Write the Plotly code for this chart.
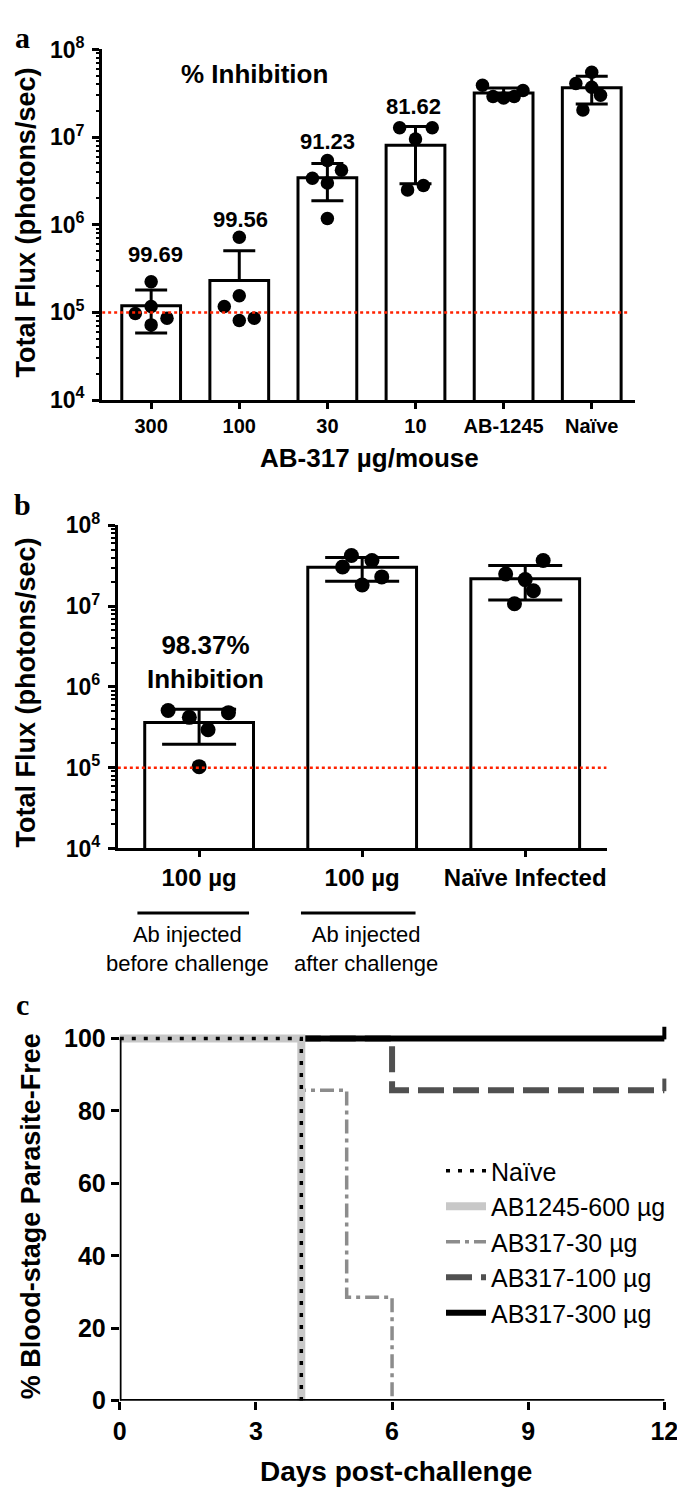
import numpy as np
import plotly.graph_objects as go

# page body has an 8px margin: the figure is sized/offset to compensate
OFF = 8
W, H = 685 - OFF, 1505 - 2 * OFF

# ---------------- data ----------------
# Panel a
a_groups = ["300", "100", "30", "10", "AB-1245", "Naïve"]
a_points = [
    [2.24e5, 0.97e5, 1.17e5, 0.86e5, 0.72e5],
    [7.2e5, 1.17e5, 1.55e5, 0.81e5, 0.86e5],
    [5.4e6, 3.4e6, 4.2e6, 3.0e6, 1.18e6],
    [1.28e7, 1.28e7, 9.5e6, 2.5e6, 2.8e6],
    [3.9e7, 2.9e7, 2.8e7, 2.9e7, 3.4e7],
    [5.5e7, 4.1e7, 3.7e7, 3.0e7, 2.04e7],
]
a_inhibition = ["99.69", "99.56", "91.23", "81.62"]

# Panel b
b_groups = ["100 µg", "100 µg", "Naïve Infected"]
b_points = [
    [5.1e5, 4.8e5, 4.2e5, 2.95e5, 1.03e5],
    [4.24e7, 3.68e7, 3.05e7, 2.3e7, 1.83e7],
    [3.68e7, 2.5e7, 2.13e7, 1.55e7, 1.07e7],
]
b_inhibition = "98.37%"
b_subgroups = ["Ab injected<br>before challenge", "Ab injected<br>after challenge"]

detection_limit = 1e5
y_tick_exponents = [4, 5, 6, 7, 8]

# Panel c (Kaplan-Meier steps), in drawing order
c_series = ["AB317-100 µg", "AB317-30 µg", "AB317-300 µg", "AB1245-600 µg", "Naïve"]
c_legend_rank = [4, 3, 5, 2, 1]
c_days = [[0, 6, 12], [0, 4, 5, 6], [0, 12], [0, 4], [0, 4]]
c_pct = [[100, 85.7, 85.7], [100, 85.7, 28.6, 0], [100, 100], [100, 0], [100, 0]]
c_xticks = [0, 3, 6, 9, 12]
c_yticks = [0, 20, 40, 60, 80, 100]

# ---------------- styling (not data) ----------------
a_jitter = [
    [0, -0.18, 0, 0.18, 0],
    [0, -0.17, 0, 0, 0.17],
    [0, -0.17, 0.16, 0, 0],
    [-0.18, 0.19, 0, -0.09, 0.09],
    [-0.24, -0.12, 0, 0.12, 0.22],
    [0, -0.18, 0, 0.1, -0.1],
]
b_jitter = [
    [-0.19, 0.18, -0.06, 0.055, 0],
    [-0.066, 0.06, -0.12, 0.12, 0],
    [0.11, -0.12, 0, 0.05, -0.066],
]
c_styles = [
    dict(color="#505050", width=6, dash="26px,9px"),
    dict(color="#8c8c8c", width=3.5, dash="14px,5px,4px,5px"),
    dict(color="black", width=6, dash="solid"),
    dict(color="#c8c8c8", width=8, dash="solid"),
    dict(color="black", width=3.5, dash="4px,8px"),
]

FONT = "Liberation Sans, Arial, sans-serif"
SERIF = "Liberation Serif, Times New Roman, serif"


def px(x):
    return (x - OFF) / W


def py(y):
    return 1 - (y - OFF) / H


def stats(points):
    arr = [np.asarray(p) for p in points]
    mean = np.array([a.mean() for a in arr])
    sd = np.array([a.std(ddof=1) for a in arr])
    minus = np.where(mean - sd > 0, sd, 0)
    return mean, sd, minus


fig = go.Figure()

# ---------- panel a ----------
a_mean, a_sd, a_minus = stats(a_points)
a_idx = list(range(len(a_groups)))
fig.add_trace(go.Bar(
    x=a_idx, y=a_mean, width=0.667, xaxis="x", yaxis="y",
    marker=dict(color="white", line=dict(color="black", width=3)),
    error_y=dict(type="data", symmetric=False, array=a_sd, arrayminus=a_minus,
                 color="black", thickness=3, width=16),
    showlegend=False, hoverinfo="skip"))
ax_x, ax_y = [], []
for i, (pts, jit) in enumerate(zip(a_points, a_jitter)):
    ax_x += [i + j for j in jit]
    ax_y += pts
fig.add_trace(go.Scatter(x=ax_x, y=ax_y, mode="markers", xaxis="x", yaxis="y",
                         marker=dict(color="black", size=13.5), showlegend=False,
                         cliponaxis=False))
a_range = [-0.556, 5.49]
fig.add_trace(go.Scatter(x=[a_range[0], a_range[0] + 0.987 * (a_range[1] - a_range[0])],
                         y=[detection_limit] * 2, mode="lines", xaxis="x", yaxis="y",
                         line=dict(color="#ff2200", width=2.5, dash="dot"),
                         showlegend=False, hoverinfo="skip"))

# ---------- panel b ----------
b_mean, b_sd, b_minus = stats(b_points)
b_idx = list(range(len(b_groups)))
fig.add_trace(go.Bar(
    x=b_idx, y=b_mean, width=0.667, xaxis="x2", yaxis="y2",
    marker=dict(color="white", line=dict(color="black", width=3)),
    error_y=dict(type="data", symmetric=False, array=b_sd, arrayminus=b_minus,
                 color="black", thickness=3, width=37),
    showlegend=False, hoverinfo="skip"))
bx_x, bx_y = [], []
for i, (pts, jit) in enumerate(zip(b_points, b_jitter)):
    bx_x += [i + j for j in jit]
    bx_y += pts
fig.add_trace(go.Scatter(x=bx_x, y=bx_y, mode="markers", xaxis="x2", yaxis="y2",
                         marker=dict(color="black", size=15), showlegend=False,
                         cliponaxis=False))
b_range = [-0.4985, 2.4985]
fig.add_trace(go.Scatter(x=[b_range[0], b_range[0] + 1.01 * (b_range[1] - b_range[0])],
                         y=[detection_limit] * 2, mode="lines", xaxis="x2", yaxis="y2",
                         line=dict(color="#ff2200", width=2.5, dash="dot"),
                         showlegend=False, hoverinfo="skip", cliponaxis=False))

# ---------- panel c ----------
for name, rank, d, p, st in zip(c_series, c_legend_rank, c_days, c_pct, c_styles):
    fig.add_trace(go.Scatter(x=d, y=p, mode="lines", line_shape="hv", name=name,
                             legendrank=rank, xaxis="x3", yaxis="y3", line=st))
# censor ticks at end of follow-up (series still above zero)
for d, p, st in zip(c_days, c_pct, c_styles):
    if p[-1] > 0:
        fig.add_trace(go.Scatter(x=[d[-1]], y=[p[-1] + 1.5], mode="markers", xaxis="x3", yaxis="y3",
                                 marker=dict(symbol="line-ns", size=9,
                                             line=dict(color=st["color"], width=4)),
                                 showlegend=False, cliponaxis=False, hoverinfo="skip"))

bold = dict(family=FONT, color="black", weight="bold")

log_tickvals = [10.0 ** e for e in y_tick_exponents]
log_ticktext = ["10<sup>%d</sup>" % e for e in y_tick_exponents]
log_minor = [m * 10.0 ** e for e in y_tick_exponents[:-1] for m in range(2, 10)]

log_axis = dict(type="log", range=[4, 8], tickvals=log_tickvals, ticktext=log_ticktext,
                showline=True, linecolor="black", linewidth=3, ticks="outside",
                ticklen=7, tickwidth=2.5, tickcolor="black", showgrid=False, zeroline=False,
                tickfont=dict(size=23, **bold), ticklabelstandoff=3,
                minor=dict(ticks="outside", ticklen=3.5, tickwidth=1.5, tickcolor="black",
                           tickvals=log_minor, showgrid=False))

cat_axis = dict(showline=True, linecolor="black", linewidth=3, ticks="outside",
                ticklen=6, tickwidth=2.5, tickcolor="black", showgrid=False, zeroline=False)

fig.update_layout(
    width=W, height=H, margin=dict(l=0, r=0, t=0, b=0),
    plot_bgcolor="white", paper_bgcolor="white",
    font=dict(family=FONT, color="black"),
    xaxis=dict(domain=[px(97), px(641)], range=a_range, tickvals=a_idx, ticktext=a_groups,
               tickfont=dict(size=20, **bold), anchor="y", **cat_axis),
    yaxis=dict(domain=[py(391), py(33)], anchor="x", **log_axis),
    xaxis2=dict(domain=[px(113), px(612)], range=b_range, tickvals=b_idx, ticktext=b_groups,
                tickfont=dict(size=24, **bold), anchor="y2", **cat_axis),
    yaxis2=dict(domain=[py(849), py(519)], anchor="x2", **log_axis),
    xaxis3=dict(domain=[px(115), px(678)], range=[0, 12.15], tickvals=c_xticks,
                anchor="y3", showline=False, ticks="outside", ticklen=8, tickwidth=3,
                tickcolor="black", showgrid=False, zeroline=False, ticklabeloverflow="allow",
                tickfont=dict(size=25, **bold)),
    yaxis3=dict(domain=[py(1413), py(1037.5)], range=[0, 101.5], tickvals=c_yticks,
                anchor="x3", showline=False, ticks="outside", ticklen=8, tickwidth=3,
                tickcolor="black", showgrid=False, zeroline=False,
                tickfont=dict(size=25, **bold)),
    legend=dict(x=px(443), y=py(1155), xanchor="left", yanchor="top",
                traceorder="normal", font=dict(family=FONT, size=25, color="black"),
                bgcolor="rgba(0,0,0,0)", itemwidth=40, tracegroupgap=0),
)

# axis lines for panel c
fig.add_shape(type="line", xref="x3", yref="y3", x0=0, x1=0, y0=0, y1=100,
              line=dict(color="black", width=3.5))
fig.add_shape(type="line", xref="x3", yref="y3", x0=0, x1=12, y0=0, y1=0,
              line=dict(color="black", width=3.5))

# bracket lines under panel b
fig.add_shape(type="line", xref="paper", yref="paper", x0=px(133), x1=px(247), y0=py(915), y1=py(915),
              line=dict(color="black", width=3))
fig.add_shape(type="line", xref="paper", yref="paper", x0=px(300), x1=px(417), y0=py(915), y1=py(915),
              line=dict(color="black", width=3))

ann = []


def text(x, y, s, size, weight="bold", family=FONT, angle=0):
    ann.append(dict(x=px(x), y=py(y), xref="paper", yref="paper", text=s, showarrow=False,
                    xanchor="center", yanchor="middle", textangle=angle,
                    font=dict(family=family, size=size, color="black", weight=weight)))


# panel labels
text(16, 21, "a", 30, family=SERIF)
text(16, 498, "b", 30, family=SERIF)
text(16, 1008, "c", 30, family=SERIF)

# panel a texts
text(253, 58, "% Inhibition", 26)
for s, (x, y) in zip(a_inhibition, [(151, 242), (238, 207), (327, 127), (415, 91)]):
    text(x, y, s, 22)
text(370, 450, "AB-317 µg/mouse", 26)
text(19, 210, "Total Flux (photons/sec)", 27, angle=-90)

# panel b texts
text(203, 659, b_inhibition + "<br>Inhibition", 26)
text(19, 690, "Total Flux (photons/sec)", 27, angle=-90)
for s, x in zip(b_subgroups, [184, 366]):
    text(x, 952, s, 22, weight="normal")

# panel c texts
text(24, 1225, "% Blood-stage Parasite-Free", 27, angle=-90)
text(397, 1485, "Days post-challenge", 28)

fig.update_layout(annotations=ann)
fig.write_html("out.html")
